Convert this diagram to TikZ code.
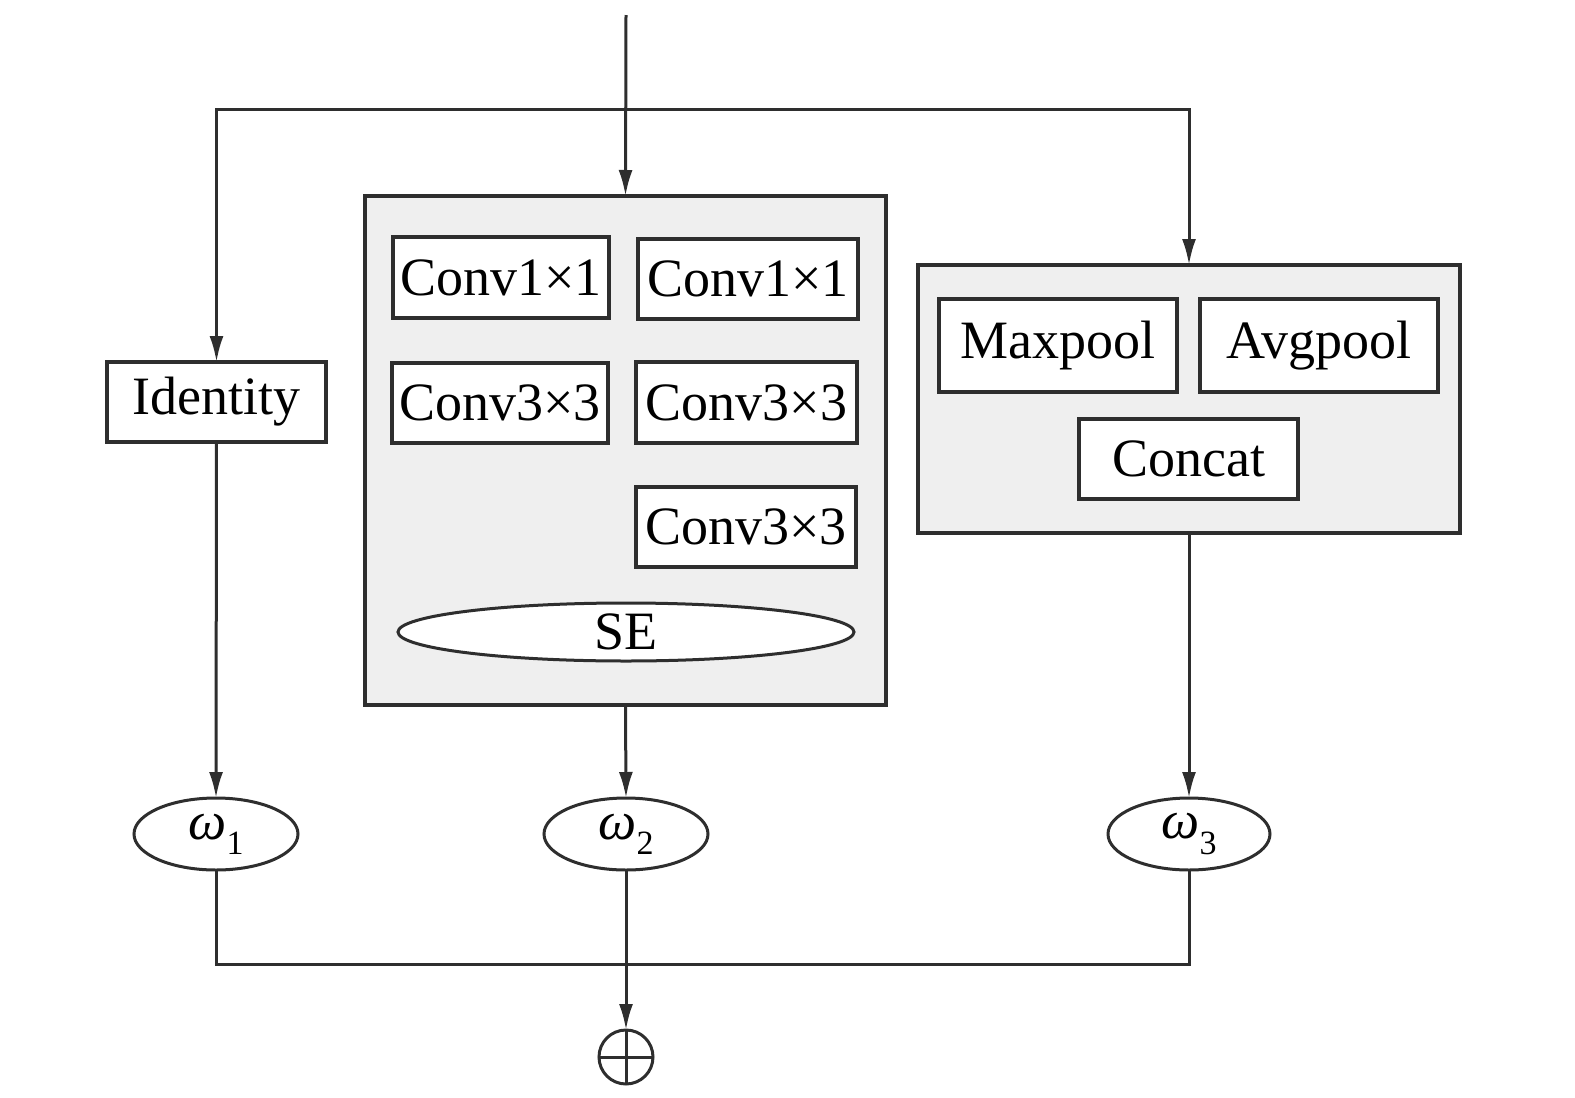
\documentclass[tikz,border=0pt]{standalone}
\usepackage{fontspec}
\setmainfont{Liberation Serif}
\usetikzlibrary{shapes.geometric,arrows.meta}
\definecolor{ln}{HTML}{2E2E2E}
\definecolor{bg}{HTML}{EFEFEF}
\begin{document}
\begin{tikzpicture}[x=1pt,y=-1pt,
  every node/.style={inner sep=0pt,outer sep=0pt},
  blk/.style={draw=ln,line width=3.2pt,fill=white,rectangle,font=\fontsize{54}{60}\selectfont},
  grp/.style={draw=ln,line width=3.2pt,fill=bg,rectangle},
  oval/.style={draw=ln,line width=3pt,fill=white,ellipse,font=\fontsize{54}{60}\selectfont},
  wire/.style={draw=ln,line width=3pt},
  arr/.style={wire,-{Latex[length=26pt,width=14pt]}}]
\useasboundingbox (0,0) rectangle (1575,1098);
% groups
\node[grp,minimum width=521pt,minimum height=509pt] (cb) at (625.5,450.5) {};
\node[grp,minimum width=542pt,minimum height=268pt] (rb) at (1189,399) {};
% blocks
\node[blk,minimum width=219pt,minimum height=80pt] (id) at (216.5,402) {Identity};
\node[blk,minimum width=216pt,minimum height=81pt] (c1a) at (501,277.5) {Conv1×1};
\node[blk,minimum width=220pt,minimum height=80pt] (c1b) at (748,279) {Conv1×1};
\node[blk,minimum width=216pt,minimum height=80pt] (c3a) at (500,403) {Conv3×3};
\node[blk,minimum width=221pt,minimum height=81pt] (c3b) at (746.5,402.5) {Conv3×3};
\node[blk,minimum width=220pt,minimum height=80pt] (c3c) at (746,527) {Conv3×3};
\node[oval,minimum width=456pt,minimum height=58pt] (se) at (626,632) {SE};
\node[blk,minimum width=238pt,minimum height=93pt] (mp) at (1058,345.5) {Maxpool};
\node[blk,minimum width=238pt,minimum height=93pt] (ap) at (1319,345.5) {Avgpool};
\node[blk,minimum width=219pt,minimum height=80pt] (cc) at (1188.5,459) {Concat};
% weights
\node[oval,minimum width=164pt,minimum height=72pt] (w1) at (216,834) {\textit{ω}\raisebox{-0.28em}{\fontsize{34}{36}\selectfont 1}};
\node[oval,minimum width=164pt,minimum height=72pt] (w2) at (626,834) {\textit{ω}\raisebox{-0.28em}{\fontsize{34}{36}\selectfont 2}};
\node[oval,minimum width=162pt,minimum height=72pt] (w3) at (1189,834) {\textit{ω}\raisebox{-0.28em}{\fontsize{34}{36}\selectfont 3}};
% sum
\node[circle,draw=ln,line width=3pt,minimum size=54pt] (plus) at (626,1057) {};
\draw[ln,line width=3pt] (plus.north) -- (plus.south) (plus.west) -- (plus.east);
% connectors
\coordinate (in) at (626,15);
\coordinate (br) at (626,109);
\coordinate (jn) at (626,964);
\draw[arr] (in) -- (cb.north);
\draw[arr] (br) -| (id.north);
\draw[arr] (br) -| (rb.north);
\draw[arr] (id.south) -- (w1.north);
\draw[arr] (cb.south) -- (w2.north);
\draw[arr] (rb.south) -- (w3.north);
\draw[wire] (w1.south) |- (jn) -| (w3.south);
\draw[arr] (w2.south) -- (plus.north);
\end{tikzpicture}
\end{document}
